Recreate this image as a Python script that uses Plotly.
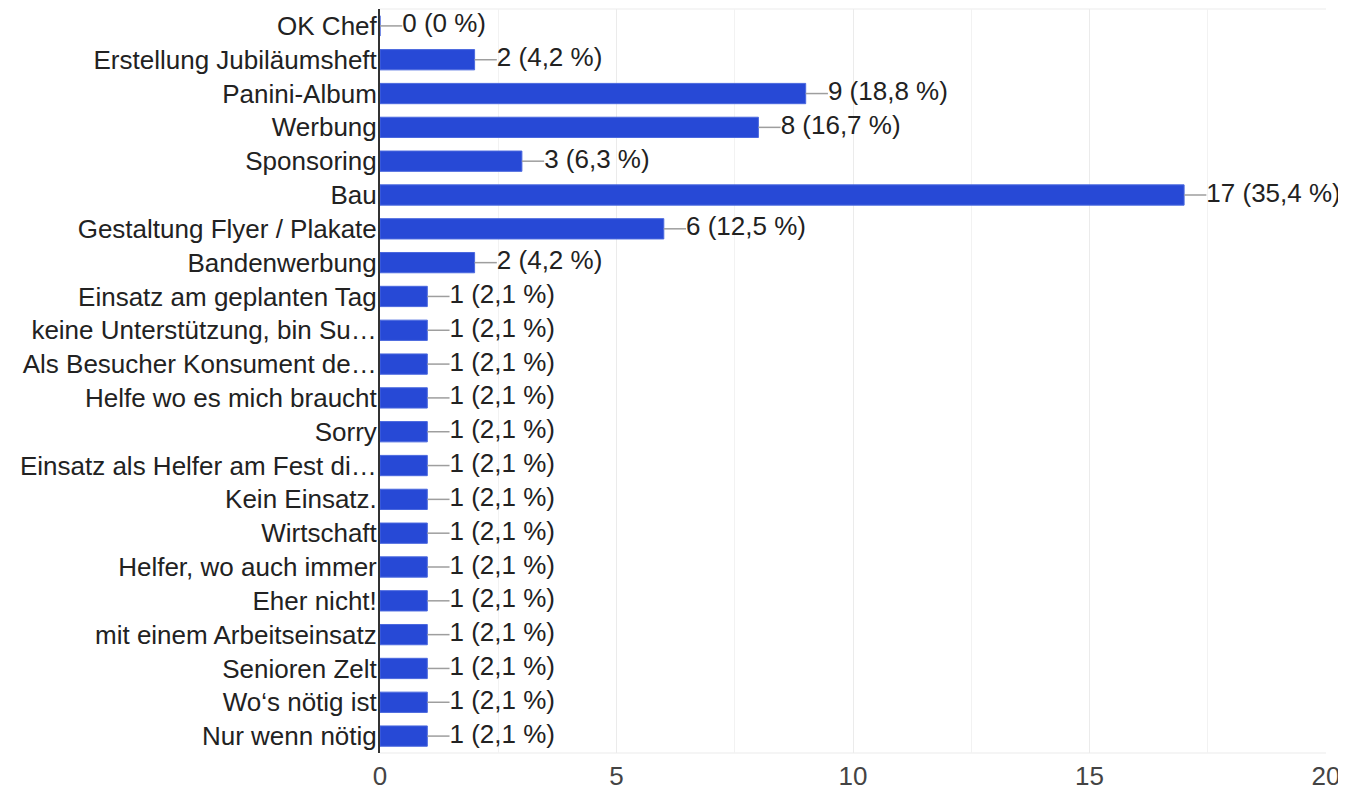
import plotly.graph_objects as go

categories = [
    "OK Chef", "Erstellung Jubiläumsheft", "Panini-Album", "Werbung", "Sponsoring",
    "Bau", "Gestaltung Flyer / Plakate", "Bandenwerbung", "Einsatz am geplanten Tag",
    "keine Unterstützung, bin Su…", "Als Besucher Konsument de…", "Helfe wo es mich braucht",
    "Sorry", "Einsatz als Helfer am Fest di…", "Kein Einsatz.", "Wirtschaft",
    "Helfer, wo auch immer", "Eher nicht!", "mit einem Arbeitseinsatz", "Senioren Zelt",
    "Wo‘s nötig ist", "Nur wenn nötig",
]
counts = [0, 2, 9, 8, 3, 17, 6, 2, 1, 1, 1, 1, 1, 1, 1, 1, 1, 1, 1, 1, 1, 1]
percents = ["0", "4,2", "18,8", "16,7", "6,3", "35,4", "12,5", "4,2", "2,1", "2,1", "2,1",
            "2,1", "2,1", "2,1", "2,1", "2,1", "2,1", "2,1", "2,1", "2,1", "2,1", "2,1"]
x_ticks = [0, 5, 10, 15, 20]

labels = [f"{c} ({p} %)" for c, p in zip(counts, percents)]
LEAD = 0.47
FONT = "Liberation Sans, Arial, sans-serif"
FS = 26

fig = go.Figure()
fig.add_trace(go.Bar(
    y=categories, x=counts, orientation="h", width=0.6,
    marker=dict(color="#2749d6", line=dict(color="#4a68de", width=1)),
    error_x=dict(type="data", symmetric=False, array=[LEAD] * len(counts),
                 arrayminus=[0] * len(counts), color="#9e9e9e", thickness=1.5, width=0),
    hoverinfo="skip",
))
fig.add_trace(go.Scatter(
    y=categories, x=[c + LEAD for c in counts], mode="text", text=labels,
    textposition="middle right", textfont=dict(family=FONT, size=FS, color="#222222"),
    hoverinfo="skip", cliponaxis=False,
))

# page body has an 8px margin; size the figure so the plot lands where the reference has it
fig.update_layout(
    width=1338, height=785, showlegend=False,
    paper_bgcolor="white", plot_bgcolor="white",
    margin=dict(l=372, r=20, t=1, b=40, autoexpand=False),
    font=dict(family=FONT, size=FS, color="#222222"),
)
fig.update_xaxes(
    range=[0, 20], tickvals=x_ticks, showgrid=True, gridcolor="#ebebeb", gridwidth=1,
    minor=dict(dtick=2.5, showgrid=True, gridcolor="#f2f2f2", gridwidth=1),
    zeroline=False, showline=False, ticks="", automargin=False, ticklabelstandoff=5,
    tickfont=dict(family=FONT, size=FS, color="#444444"),
    fixedrange=True,
)
fig.update_yaxes(
    categoryorder="array", categoryarray=categories, range=[len(categories) - 0.5, -0.5],
    showline=True, linecolor="#333333", linewidth=2, ticks="", showgrid=False,
    automargin=False, ticklabelstandoff=-4,
    tickfont=dict(family=FONT, size=FS, color="#222222"),
    fixedrange=True,
)
fig.update_layout(shapes=[
    dict(type="line", xref="paper", yref="paper", x0=0, x1=1, y0=1, y1=1,
         line=dict(color="#ebebeb", width=1), layer="below"),
    dict(type="line", xref="paper", yref="paper", x0=0, x1=1, y0=0, y1=0,
         line=dict(color="#ebebeb", width=1), layer="below"),
])

fig.write_html("out.html")
